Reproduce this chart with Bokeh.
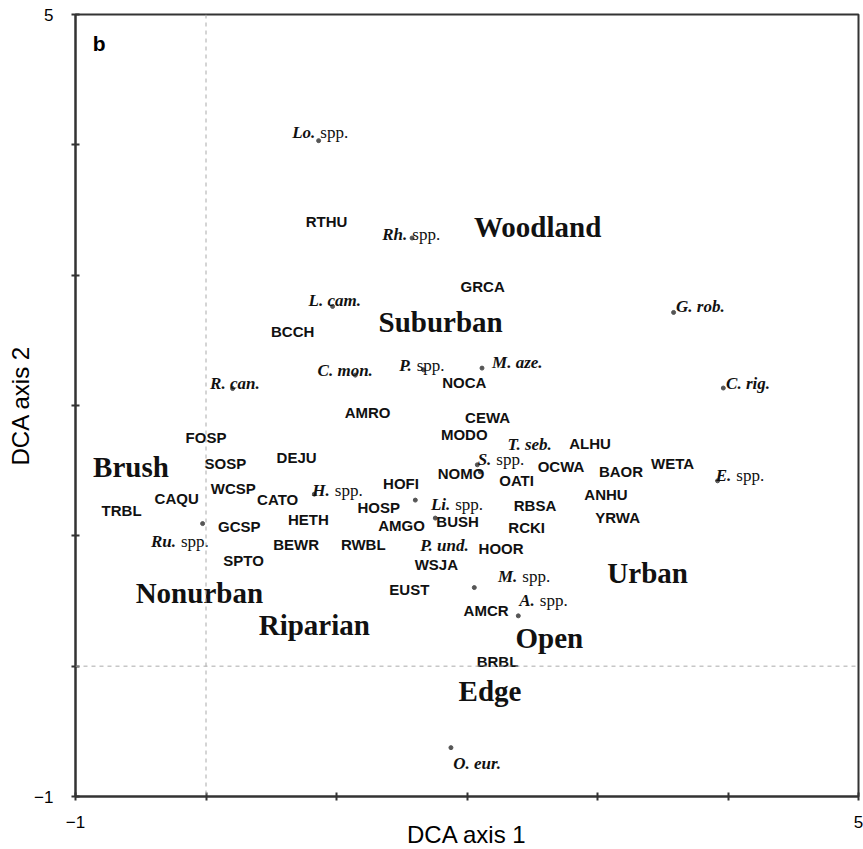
from bokeh.plotting import figure
from bokeh.models import ColumnDataSource, FixedTicker, Span, Label
from bokeh.core.properties import value
from bokeh.embed import file_html
from bokeh.resources import INLINE

# ---- data ----
# Plant taxa (dots) in DCA space
sp_italic = ["Lo.", "Rh.", "L. cam.", "R. can.", "C. mon.", "P.", "M. aze.", "G. rob.",
             "C. rig.", "E.", "T. seb.", "S.", "H.", "Li.", "P. und.", "Ru.", "M.", "A.", "O. eur."]
sp_suffix = ["spp.", "spp.", "", "", "", "spp.", "", "",
             "", "spp.", "", "spp.", "spp.", "spp.", "", "spp.", "spp.", "spp.", ""]
sp_x = [0.863, 1.579, 0.970, 0.204, 1.144, 1.667, 2.115, 3.583,
        3.964, 3.920, 2.102, 2.079, 0.830, 1.604, 1.757, -0.026, 2.056, 2.393, 1.877]
sp_y = [4.032, 3.285, 2.760, 2.130, 2.233, 2.274, 2.287, 2.714,
        2.134, 1.422, 1.491, 1.545, 1.320, 1.274, 1.136, 1.094, 0.603, 0.386, -0.625]
# label anchors of the taxa names (data units)
sp_label_x = [0.853, 1.558, 0.786, 0.031, 0.855, 1.592, 2.192, 3.602,
              3.985, 4.041, 2.311, 2.202, 0.964, 1.887, 1.642, -0.215, 2.401, 2.535, 1.895]
sp_label_y = [4.091, 3.310, 2.804, 2.170, 2.266, 2.308, 2.330, 2.757,
              2.169, 1.460, 1.704, 1.583, 1.351, 1.243, 0.923, 0.956, 0.685, 0.507, -0.748]

# Bird species codes
bird_codes = ["RTHU", "GRCA", "BCCH", "NOCA", "AMRO", "CEWA", "MODO", "ALHU", "FOSP", "DEJU",
              "SOSP", "OCWA", "BAOR", "WETA", "NOMO", "OATI", "HOFI", "WCSP", "CAQU", "CATO",
              "TRBL", "HOSP", "ANHU", "RBSA", "YRWA", "HETH", "GCSP", "AMGO", "BUSH", "RCKI",
              "BEWR", "RWBL", "HOOR", "SPTO", "WSJA", "EUST", "AMCR", "BRBL"]
bird_x = [0.924, 2.120, 0.664, 1.979, 1.238, 2.158, 1.979, 2.943, 0.000, 0.694,
          0.148, 2.720, 3.180, 3.575, 1.954, 2.380, 1.494, 0.209, -0.225, 0.549,
          -0.647, 1.323, 3.065, 2.521, 3.154, 0.784, 0.255, 1.499, 1.928, 2.457,
          0.690, 1.205, 2.261, 0.288, 1.765, 1.558, 2.146, 2.234]
bird_y = [3.412, 2.911, 2.568, 2.177, 1.946, 1.908, 1.781, 1.708, 1.754, 1.601,
          1.558, 1.530, 1.493, 1.555, 1.481, 1.427, 1.401, 1.366, 1.289, 1.282,
          1.192, 1.217, 1.315, 1.230, 1.140, 1.128, 1.071, 1.077, 1.107, 1.064,
          0.931, 0.931, 0.906, 0.814, 0.783, 0.591, 0.424, 0.035]

# Habitat categories
habitats = ["Woodland", "Suburban", "Brush", "Nonurban", "Riparian", "Urban", "Open", "Edge"]
hab_x = [2.541, 1.798, -0.575, -0.051, 0.830, 3.384, 2.631, 2.176]
hab_y = [3.366, 2.637, 1.530, 0.565, 0.317, 0.718, 0.219, -0.190]

axis_ticks = [-1, 0, 1, 2, 3, 4, 5]
tick_labels = {-1: "\u22121", 0: "", 1: "", 2: "", 3: "", 4: "", 5: "5"}

# ---- figure ----
p = figure(frame_width=783, frame_height=782, x_range=(-1, 5), y_range=(-1, 5),
           output_backend="svg", toolbar_location=None,
           min_border_left=75, min_border_top=14, min_border_right=5, min_border_bottom=0)
p.grid.visible = False
p.outline_line_color = "#333333"
p.outline_line_width = 2
p.background_fill_color = "white"

for ax in (p.xaxis[0], p.yaxis[0]):
    ax.ticker = FixedTicker(ticks=axis_ticks)
    ax.major_label_overrides = tick_labels
    ax.minor_tick_line_color = None
    ax.major_tick_in = 4
    ax.major_tick_out = 4
    ax.axis_line_width = 2
    ax.axis_line_color = "#333333"
    ax.major_tick_line_color = "#333333"
    ax.major_tick_line_width = 2
    ax.major_label_text_font = "Liberation Sans"
    ax.major_label_text_font_size = "17px"
    ax.major_label_text_color = "black"
    ax.axis_label_text_font = "Liberation Sans"
    ax.axis_label_text_font_size = "24px"
    ax.axis_label_text_font_style = "normal"
    ax.axis_label_text_color = "black"

p.xaxis.axis_label = "DCA axis 1"
p.yaxis.axis_label = "DCA axis 2"
p.xaxis.major_label_standoff = 15
p.xaxis.axis_label_standoff = -10
p.yaxis.major_label_standoff = 18
p.yaxis.axis_label_standoff = -3

p.add_layout(Span(location=0, dimension="height", line_color="#aaaaaa", line_dash="4 4", line_width=1))
p.add_layout(Span(location=0, dimension="width", line_color="#aaaaaa", line_dash="4 4", line_width=1))

# taxa dots
p.scatter(sp_x, sp_y, size=4, color="#555555")

with_suffix = [i for i, s in enumerate(sp_suffix) if s]
no_suffix = [i for i, s in enumerate(sp_suffix) if not s]

src_a = ColumnDataSource(dict(x=[sp_label_x[i] for i in with_suffix], y=[sp_label_y[i] for i in with_suffix],
                              t=[sp_italic[i] for i in with_suffix], s=[sp_suffix[i] for i in with_suffix]))
src_b = ColumnDataSource(dict(x=[sp_label_x[i] for i in no_suffix], y=[sp_label_y[i] for i in no_suffix],
                              t=[sp_italic[i] for i in no_suffix]))

p.text("x", "y", text="t", source=src_a, text_align="right", text_baseline="alphabetic",
       x_offset=-2, text_font=value("Liberation Serif"), text_font_style="bold italic",
       text_font_size="17px", text_color="#111111")
p.text("x", "y", text="s", source=src_a, text_align="left", text_baseline="alphabetic",
       x_offset=3, text_font=value("Liberation Serif"), text_font_style="normal",
       text_font_size="17px", text_color="#111111")
p.text("x", "y", text="t", source=src_b, text_align="left", text_baseline="alphabetic",
       text_font=value("Liberation Serif"), text_font_style="bold italic",
       text_font_size="17px", text_color="#111111")

# bird codes
p.text(bird_x, bird_y, text=bird_codes, text_align="center", text_baseline="middle",
       text_font=value("Liberation Sans"), text_font_style="bold", text_font_size="15px",
       text_color="#111111")

# habitat labels
p.text(hab_x, hab_y, text=habitats, text_align="center", text_baseline="middle",
       text_font=value("Liberation Serif"), text_font_style="bold", text_font_size="29px",
       text_color="#111111")

p.add_layout(Label(x=-0.818, y=4.774, text="b", text_align="center", text_baseline="middle",
                   text_font="Liberation Sans", text_font_style="bold", text_font_size="21px",
                   text_color="black"))

open("out.html", "w").write(file_html(p, INLINE))
